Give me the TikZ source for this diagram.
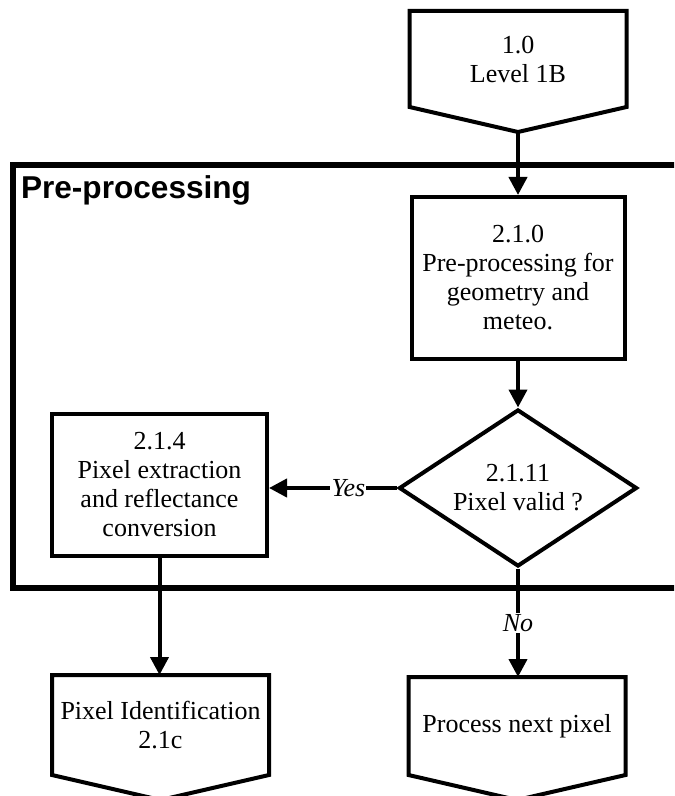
\documentclass[tikz,border=0pt]{standalone}
\usepackage{fontspec}
\setmainfont{Liberation Serif}
\newfontfamily\headfont{Liberation Sans}
\usetikzlibrary{shapes.geometric,arrows.meta}

\begin{document}
\begin{tikzpicture}[x=0.5pt,y=-0.5pt,line width=2pt,>={Triangle[length=9pt,width=9pt]},
  every node/.style={align=center,font=\fontsize{13}{14.5}\selectfont,inner sep=0pt},
  procbox/.style={draw,minimum width=#1},
  offpage/.style={outer sep=0pt,minimum width=108.5pt,minimum height=#1},
  decision/.style={draw,diamond,aspect=1.5,minimum width=119pt,minimum height=78.5pt},
  tag/.style={fill=white,font=\fontsize{13}{14.5}\selectfont\itshape,inner sep=.6pt}]
\useasboundingbox (0,0) rectangle (674,796);
\clip (0,0) rectangle (674,796);
\draw[line width=3pt] (700,165)--(13,165)--(13,588)--(700,588);
\node[anchor=base west,font=\headfont\bfseries\fontsize{15.8}{18}\selectfont] (title) at (19,199) {Pre-processing};
\node[offpage=48pt] (lvl) at (518,59) {1.0\\Level 1B};
\draw (lvl.north west)--(lvl.north east)--(lvl.south east)--++(-108.5,25) coordinate (lvltip)--(lvl.south west)--cycle;
\node[procbox=106.5pt,minimum height=81pt] (geo) at (518,278) {2.1.0\\Pre-processing for\\geometry and\\meteo.};
\node[decision] (valid) at (518,488) {2.1.11\\Pixel valid ?};
\node[procbox=107.5pt,minimum height=71pt] (ext) at (159.5,485) {2.1.4\\Pixel extraction\\and reflectance\\conversion};
\node[offpage=50pt] (pid) at (160.5,725) {Pixel Identification\\2.1c};
\draw (pid.north west)--(pid.north east)--(pid.south east)--++(-108.5,25) coordinate (pidtip)--(pid.south west)--cycle;
\node[offpage=49pt] (nxt) at (517,726) {Process next pixel};
\draw (nxt.north west)--(nxt.north east)--(nxt.south east)--++(-108.5,25) coordinate (nxttip)--(nxt.south west)--cycle;
\draw[->] (lvltip)--(geo.north);\draw[->] (geo.south)--(valid.north);
\draw[->] (valid.west)--node[tag,pos=.38]{Yes}(valid.west -| ext.east);
\draw[->] (valid.south)--node[tag]{No}(valid.south |- nxt.north);
\draw[->] (ext.south)--(ext.south |- pid.north);
\end{tikzpicture}
\end{document}
